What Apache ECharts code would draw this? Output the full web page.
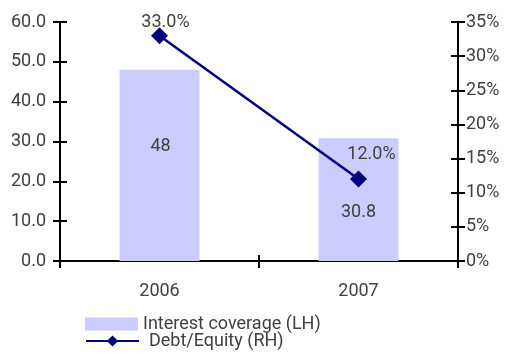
<!DOCTYPE html>
<html>
<head>
<meta charset="utf-8">
<script src="https://cdn.jsdelivr.net/npm/echarts@6/dist/echarts.min.js"></script>
<style>
  html, body { margin: 0; padding: 0; background: #fff; }
  #chart { width: 512px; height: 354px; }
</style>
</head>
<body>
<div id="chart"></div>
<script>
// Fiscal years on the category axis
const years = ['2006', '2007'];
// Interest coverage (left axis, times)
const coverage = [48, 30.8];
// Debt/Equity ratio (right axis, percent)
const debtEquity = [33.0, 12.0];

const FONT = 'Roboto, "DejaVu Sans", sans-serif';
const SIZE = 18;
const TEXT = '#404040';
const TICK = { color: '#000', width: 2 };

const chart = echarts.init(document.getElementById('chart'));

chart.setOption({
  animation: false,
  textStyle: { fontFamily: FONT },
  grid: { left: 60, right: 54, top: 22, bottom: 93 },
  legend: [
    {
      left: 85, top: 315, padding: 0,
      itemWidth: 53, itemHeight: 13, itemGap: 0,
      textStyle: { fontFamily: FONT, fontSize: SIZE, color: TEXT, padding: [0, 0, 0, 0] },
      data: [{ name: 'Interest coverage (LH)', icon: 'rect' }]
    },
    {
      left: 85, top: 332, padding: 0,
      itemWidth: 53, itemHeight: 14, itemGap: 0,
      textStyle: { fontFamily: FONT, fontSize: SIZE, color: TEXT, padding: [0, 0, 0, 5] },
      data: [{ name: 'Debt/Equity (RH)' }]
    }
  ],
  xAxis: [
    {
      type: 'category',
      data: years,
      boundaryGap: true,
      axisLine: { lineStyle: TICK },
      axisTick: { show: true, length: 7, lineStyle: TICK },
      axisLabel: { fontFamily: FONT, fontSize: SIZE, color: TEXT, margin: 21 }
    },
    {
      // inner half of the cross ticks on the bottom axis
      type: 'category',
      data: years,
      position: 'bottom',
      boundaryGap: true,
      axisLine: { show: false },
      axisTick: { show: true, inside: true, length: 6, lineStyle: TICK },
      axisLabel: { show: false }
    }
  ],
  yAxis: [
    {
      type: 'value',
      min: 0, max: 60, interval: 10,
      position: 'left',
      axisLine: { show: true, lineStyle: TICK },
      axisTick: { show: true, length: 7, lineStyle: TICK },
      splitLine: { show: false },
      axisLabel: { fontFamily: FONT, fontSize: SIZE, color: TEXT, margin: 14,
                   formatter: v => v.toFixed(1) }
    },
    {
      type: 'value',
      min: 0, max: 35, interval: 5,
      position: 'right',
      axisLine: { show: true, lineStyle: TICK },
      axisTick: { show: true, length: 7, lineStyle: TICK },
      splitLine: { show: false },
      axisLabel: { fontFamily: FONT, fontSize: SIZE, color: TEXT, margin: 8,
                   formatter: v => v + '%' }
    },
    {
      // inner half of the cross ticks on the left axis
      type: 'value',
      min: 0, max: 60, interval: 10,
      position: 'left',
      axisLine: { show: false },
      axisTick: { show: true, inside: true, length: 7, lineStyle: TICK },
      splitLine: { show: false },
      axisLabel: { show: false }
    },
    {
      // inner half of the cross ticks on the right axis
      type: 'value',
      min: 0, max: 35, interval: 5,
      position: 'right',
      axisLine: { show: false },
      axisTick: { show: true, inside: true, length: 7, lineStyle: TICK },
      splitLine: { show: false },
      axisLabel: { show: false }
    }
  ],
  series: [
    {
      name: 'Interest coverage (LH)',
      type: 'bar',
      yAxisIndex: 0,
      barWidth: 80,
      itemStyle: { color: '#ccccff' },
      data: coverage.map((v, i) => ({
        value: v,
        label: {
          show: true,
          position: 'inside',
          offset: i === 0 ? [1, -19] : [0, 13],
          fontFamily: FONT, fontSize: SIZE, color: TEXT,
          formatter: p => String(p.value)
        }
      }))
    },
    {
      name: 'Debt/Equity (RH)',
      type: 'line',
      yAxisIndex: 1,
      symbol: 'diamond',
      symbolSize: 17,
      lineStyle: { color: '#000080', width: 2.5 },
      itemStyle: { color: '#000080' },
      data: debtEquity.map((v, i) => ({
        value: v,
        label: {
          show: true,
          position: 'inside',
          offset: i === 0 ? [6, -13] : [13, -25],
          fontFamily: FONT, fontSize: SIZE, color: TEXT,
          formatter: p => p.value.toFixed(1) + '%'
        }
      }))
    }
  ]
});
</script>
</body>
</html>
